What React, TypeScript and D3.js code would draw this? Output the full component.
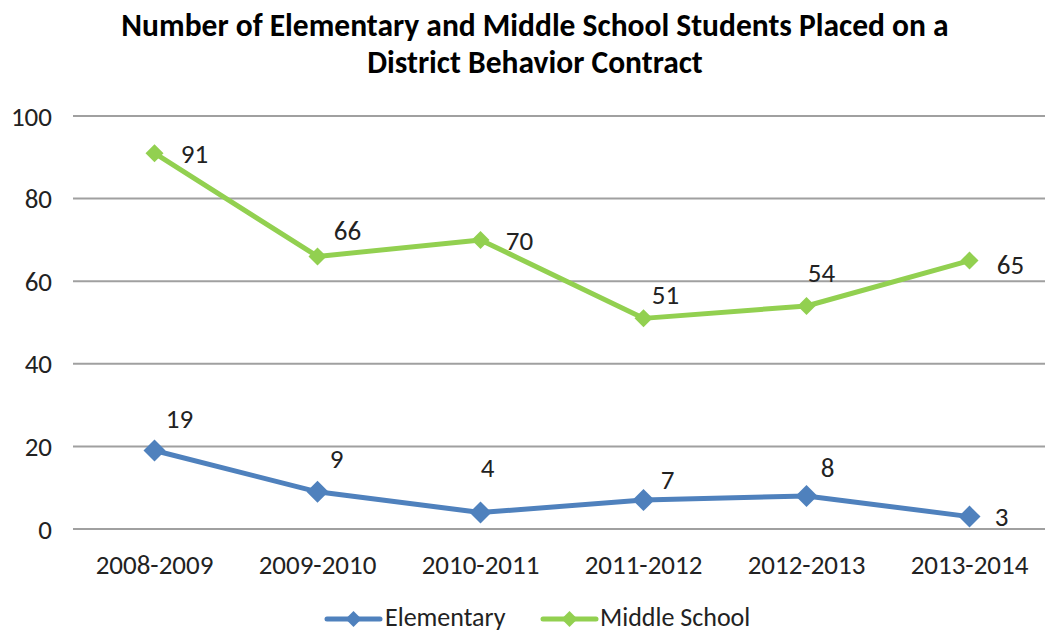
import React from "react";
import * as d3 from "d3";

const categories = ["2008-2009", "2009-2010", "2010-2011", "2011-2012", "2012-2013", "2013-2014"];
const elementary = [19, 9, 4, 7, 8, 3];
const middleSchool = [91, 66, 70, 51, 54, 65];
const yTicks = [0, 20, 40, 60, 80, 100];
const titleLines = [
  "Number of Elementary and Middle School Students Placed on a",
  "District Behavior Contract",
];
// label offsets (style): [dx, dy] from point to label center
const elemLabelOffsets = [[25, -32], [19, -33], [7, -45], [24, -21], [21, -28], [32, 0]];
const midLabelOffsets = [[40, 0], [30, -26], [39, 1], [22, -24], [15, -33], [41, 4]];

const W = 1045;
const H = 634;
const FONT = "Calibri, Carlito, 'Open Sans', sans-serif";

export default function App() {
  const x = d3.scaleBand<string>().domain(categories).range([73, 1051]);
  const y = d3.scaleLinear().domain([0, 100]).range([529, 116]);
  const cx = (c: string) => (x(c) as number) + x.bandwidth() / 2;
  const line = d3
    .line<number>()
    .x((_, i) => cx(categories[i]))
    .y((d) => y(d));

  const series = [
    { name: "Elementary", values: elementary, color: "#4F81BD", r: 11, offsets: elemLabelOffsets },
    { name: "Middle School", values: middleSchool, color: "#92D050", r: 9, offsets: midLabelOffsets },
  ];

  const diamond = (px: number, py: number, r: number) =>
    `M${px},${py - r}L${px + r},${py}L${px},${py + r}L${px - r},${py}Z`;

  const legendItems = [
    { s: series[0], lx: 327, tx: 385 },
    { s: series[1], lx: 543, tx: 600 },
  ];
  const legendY = 617;

  return (
    <svg width={W} height={H} style={{ position: "absolute", left: 0, top: 0, background: "#fff" }} fontFamily={FONT}>
      {titleLines.map((t, i) => (
        <text key={i} x={535} y={25 + i * 37} textAnchor="middle" dominantBaseline="central" fontSize={31.5} fontWeight="bold" fill="#000">
          {t}
        </text>
      ))}
      {yTicks.map((t) => (
        <g key={t}>
          <line x1={73} x2={1051} y1={y(t)} y2={y(t)} stroke="#A0A0A0" strokeWidth={2} />
          <text x={52} y={y(t)} textAnchor="end" dominantBaseline="central" fontSize={27} fill="#222">
            {t}
          </text>
        </g>
      ))}
      {categories.map((c) => (
        <text key={c} x={cx(c)} y={564} textAnchor="middle" dominantBaseline="central" fontSize={27} fill="#222">
          {c}
        </text>
      ))}
      {series.map((s) => (
        <g key={s.name}>
          <path d={line(s.values) || ""} fill="none" stroke={s.color} strokeWidth={5} strokeLinejoin="round" />
          {s.values.map((v, i) => (
            <path key={i} d={diamond(cx(categories[i]), y(v), s.r)} fill={s.color} />
          ))}
          {s.values.map((v, i) => (
            <text
              key={"l" + i}
              x={cx(categories[i]) + s.offsets[i][0]}
              y={y(v) + s.offsets[i][1]}
              textAnchor="middle"
              dominantBaseline="central"
              fontSize={27}
              fill="#222"
            >
              {v}
            </text>
          ))}
        </g>
      ))}
      {legendItems.map(({ s, lx, tx }) => (
        <g key={s.name}>
          <line x1={lx} x2={lx + 53} y1={legendY + 2} y2={legendY + 2} stroke={s.color} strokeWidth={5} strokeLinecap="round" />
          <path d={diamond(lx + 26.5, legendY + 2, 8)} fill={s.color} />
          <text x={tx} y={legendY} dominantBaseline="central" fontSize={26} fill="#222">
            {s.name}
          </text>
        </g>
      ))}
    </svg>
  );
}
